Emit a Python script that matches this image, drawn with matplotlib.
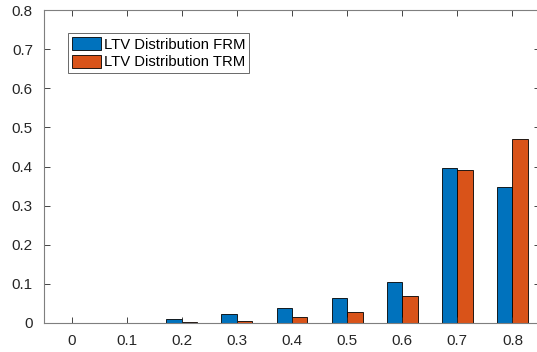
import numpy as np
import matplotlib
matplotlib.use("Agg")
import matplotlib.pyplot as plt

# LTV bins and share of loans in each bin
ltv_bins = [0, 0.1, 0.2, 0.3, 0.4, 0.5, 0.6, 0.7, 0.8]
tick_labels = ["0", "0.1", "0.2", "0.3", "0.4", "0.5", "0.6", "0.7", "0.8"]
share_frm = [0.0, 0.001, 0.010, 0.022, 0.038, 0.064, 0.104, 0.396, 0.347]
share_trm = [0.0, 0.0003, 0.003, 0.005, 0.015, 0.028, 0.069, 0.392, 0.470]

plt.rcParams['font.family'] = ['Liberation Sans', 'DejaVu Sans']

blue = '#0072BD'
orange = '#D95319'
axis_grey = '#262626'

fig = plt.figure(figsize=(5.37, 3.52), dpi=100)
# right edge of the box falls just outside the canvas
ax = fig.add_axes([44 / 537, 1 - 323 / 352, (540 - 44) / 537, (323 - 10) / 352])

x = np.array(ltv_bins)
w = 0.028
ax.bar(x - w / 2, share_frm, w, color=blue, edgecolor='black', linewidth=0.6,
       label='LTV Distribution FRM')
ax.bar(x + w / 2, share_trm, w, color=orange, edgecolor='black', linewidth=0.6,
       label='LTV Distribution TRM')

ax.set_xlim(-0.05, 0.85)
ax.set_ylim(0, 0.8)
ax.set_xticks(ltv_bins)
ax.set_xticklabels(tick_labels)
ax.set_yticks(np.arange(0, 0.81, 0.1))
ax.set_yticklabels(["0", "0.1", "0.2", "0.3", "0.4", "0.5", "0.6", "0.7", "0.8"])

for s in ax.spines.values():
    s.set_color('#7f7f7f')
    s.set_linewidth(0.8)
ax.tick_params(direction='in', length=4, width=0.6, color=axis_grey,
               labelsize=11, labelcolor=axis_grey, top=True, right=True, pad=8)

leg = ax.legend(loc='upper left', bbox_to_anchor=(24 / 496, 0.926),
                fontsize=10.7, frameon=True, fancybox=False,
                handlelength=2.0, handleheight=1.0, handletextpad=0.15,
                borderpad=0.25, labelspacing=0.2, borderaxespad=0)
leg.get_frame().set_edgecolor(axis_grey)
leg.get_frame().set_linewidth(0.6)

fig.savefig('out.png', dpi=100)
